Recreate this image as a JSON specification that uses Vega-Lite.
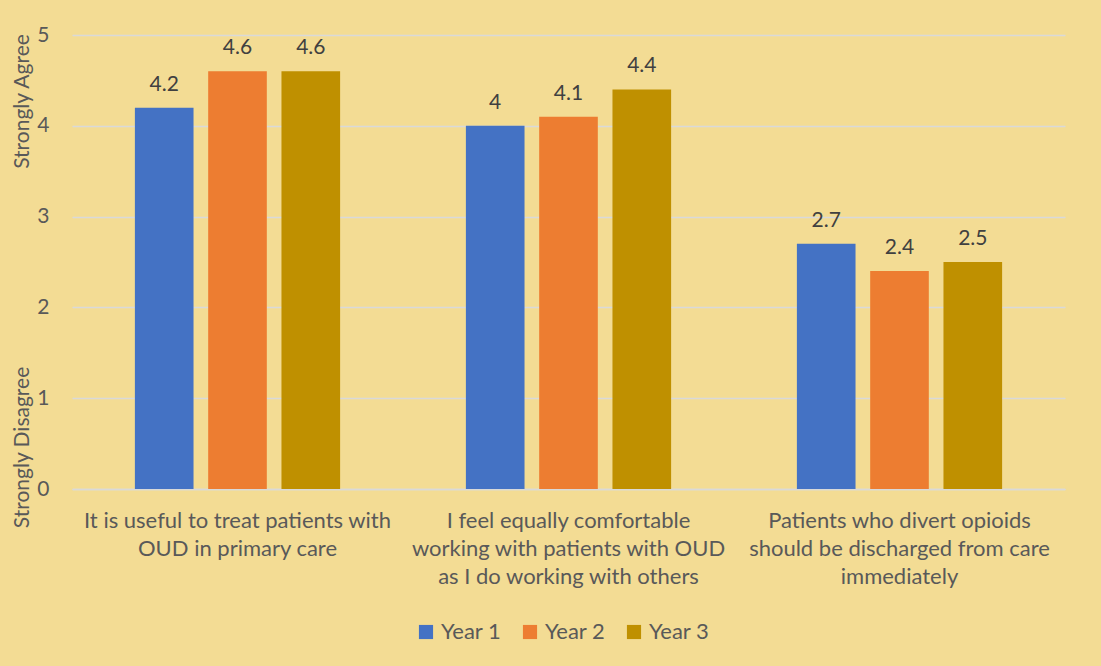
{
  "$schema": "https://vega.github.io/schema/vega-lite/v6.json",
  "width": 993,
  "height": 454,
  "autosize": {"type": "none"},
  "padding": {"left": 72, "top": 35, "right": 36, "bottom": 177},
  "background": "#F3DC94",
  "config": {
    "view": {"stroke": null},
    "font": "Lato",
    "axis": {"labelFont": "Lato", "titleFont": "Lato"},
    "legend": {"labelFont": "Lato"}
  },
  "data": {
    "values": [
      {"statement": "It is useful to treat patients with|OUD in primary care", "year": "Year 1", "score": 4.2},
      {"statement": "It is useful to treat patients with|OUD in primary care", "year": "Year 2", "score": 4.6},
      {"statement": "It is useful to treat patients with|OUD in primary care", "year": "Year 3", "score": 4.6},
      {"statement": "I feel equally comfortable|working with patients with OUD|as I do working with others", "year": "Year 1", "score": 4.0},
      {"statement": "I feel equally comfortable|working with patients with OUD|as I do working with others", "year": "Year 2", "score": 4.1},
      {"statement": "I feel equally comfortable|working with patients with OUD|as I do working with others", "year": "Year 3", "score": 4.4},
      {"statement": "Patients who divert opioids|should be discharged from care|immediately", "year": "Year 1", "score": 2.7},
      {"statement": "Patients who divert opioids|should be discharged from care|immediately", "year": "Year 2", "score": 2.4},
      {"statement": "Patients who divert opioids|should be discharged from care|immediately", "year": "Year 3", "score": 2.5}
    ]
  },
  "encoding": {
    "x": {
      "field": "statement",
      "type": "nominal",
      "sort": null,
      "scale": {"paddingInner": 0.38, "paddingOuter": 0.19},
      "axis": {
        "title": null,
        "labelAngle": 0,
        "labelExpr": "split(datum.label, '|')",
        "labelFontSize": 22,
        "labelColor": "#595959",
        "labelLineHeight": 28,
        "labelBaseline": "top",
        "labelPadding": 21,
        "labelLimit": 450,
        "ticks": false,
        "domainColor": "#D9D9D9",
        "domainWidth": 1.5
      }
    },
    "xOffset": {
      "field": "year",
      "type": "nominal",
      "sort": null,
      "scale": {"paddingInner": 0.2, "paddingOuter": 0}
    }
  },
  "layer": [
    {
      "mark": {"type": "bar"},
      "encoding": {
        "y": {
          "field": "score",
          "type": "quantitative",
          "scale": {"domain": [0, 5]},
          "axis": {
            "orient": "left",
            "values": [0, 1, 2, 3, 4, 5],
            "title": "Strongly Agree",
            "titleFontSize": 21,
            "titleFontWeight": "normal",
            "titleColor": "#595959",
            "titleAngle": 270,
            "titleAlign": "center",
            "titleBaseline": "middle",
            "titleX": -50,
            "titleY": 66,
            "labelFontSize": 21,
            "labelColor": "#595959",
            "labelPadding": 23,
            "ticks": false,
            "domain": false,
            "gridColor": "#D9D9D9",
            "gridWidth": 1.5
          }
        },
        "color": {
          "field": "year",
          "type": "nominal",
          "sort": null,
          "scale": {"domain": ["Year 1", "Year 2", "Year 3"], "range": ["#4472C4", "#ED7D31", "#BF9000"]},
          "legend": {
            "title": null,
            "orient": "none",
            "legendX": 343,
            "legendY": 586,
            "direction": "horizontal",
            "symbolType": "square",
            "symbolSize": 200,
            "symbolStrokeWidth": 0,
            "labelFontSize": 22,
            "labelColor": "#595959",
            "columnPadding": 17,
            "labelOffset": 4
          }
        }
      }
    },
    {
      "mark": {"type": "text", "baseline": "alphabetic", "dy": -17, "fontSize": 21, "color": "#404040", "font": "Lato"},
      "encoding": {
        "y": {
          "field": "score",
          "type": "quantitative",
          "scale": {"domain": [0, 5]},
          "axis": {
            "orient": "left",
            "title": "Strongly Disagree",
            "titleFontSize": 21,
            "titleFontWeight": "normal",
            "titleColor": "#595959",
            "titleAngle": 270,
            "titleAlign": "center",
            "titleBaseline": "middle",
            "titleX": -50,
            "titleY": 412,
            "labels": false,
            "ticks": false,
            "domain": false,
            "grid": false
          }
        },
        "text": {"field": "score", "type": "quantitative"}
      }
    }
  ],
  "resolve": {"axis": {"y": "independent"}}
}
